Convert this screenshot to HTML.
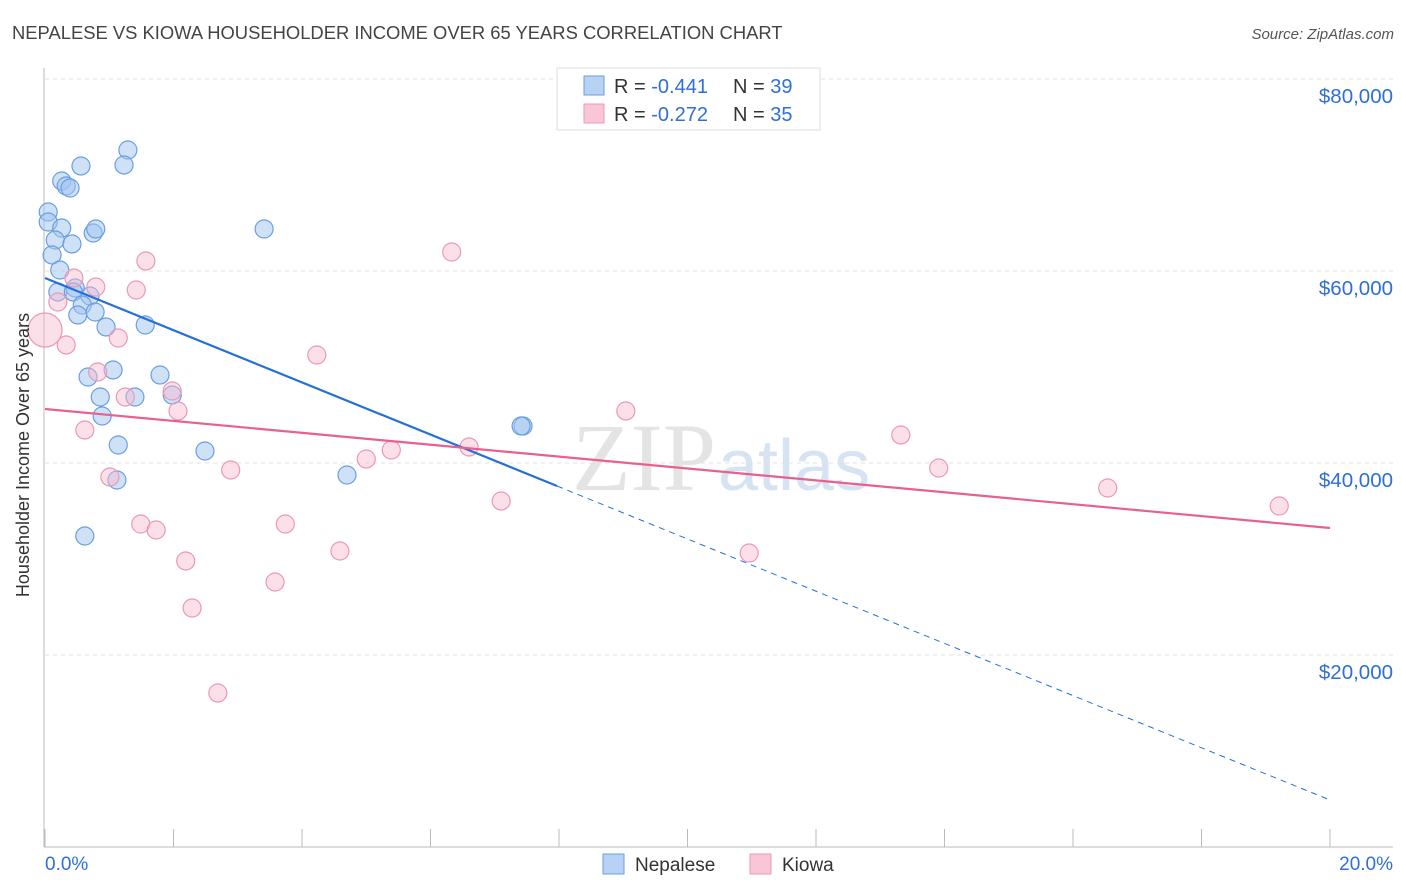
<!DOCTYPE html>
<html><head><meta charset="utf-8"><style>
body{margin:0;background:#fff;font-family:"Liberation Sans",sans-serif}
svg{display:block}
</style></head><body>
<svg id="c" width="1406" height="892">
<text x="12" y="39" font-size="18.4" fill="#444">NEPALESE VS KIOWA HOUSEHOLDER INCOME OVER 65 YEARS CORRELATION CHART</text>
<text x="1394" y="39" font-size="15" fill="#555" font-style="italic" text-anchor="end">Source: ZipAtlas.com</text>
<text x="716" y="490" font-size="96" fill="#e4e4e4" text-anchor="end" font-family="Liberation Serif">ZIP</text>
<text x="718" y="490" font-size="72" fill="#d6e3f3">atlas</text>
<g id="grid"></g><g id="axes"></g><g id="pts"></g><g id="lines"></g>
<text x="29" y="455" font-size="18" fill="#333" text-anchor="middle" transform="rotate(-90 29 455)">Householder Income Over 65 years</text>
<g>
<rect x="557" y="68" width="263" height="62" fill="#fff" stroke="#ddd"/>
<rect x="584" y="76" width="20" height="19" fill="#b8d2f3" stroke="#6a9ee0"/>
<text x="614" y="93" font-size="20" fill="#333">R = <tspan fill="#2f6fd6">-0.441</tspan></text>
<text x="733" y="93" font-size="20" fill="#333">N = <tspan fill="#2f6fd6">39</tspan></text>
<rect x="584" y="104" width="20" height="19" fill="#f8c6d6" stroke="#e99ab5"/>
<text x="614" y="121" font-size="20" fill="#333">R = <tspan fill="#2f6fd6">-0.272</tspan></text>
<text x="733" y="121" font-size="20" fill="#333">N = <tspan fill="#2f6fd6">35</tspan></text>
</g>
<g>
<rect x="603" y="854" width="21" height="20" fill="#b8d2f3" stroke="#6a9ee0"/>
<text x="635" y="871" font-size="19" fill="#333">Nepalese</text>
<rect x="750" y="854" width="21" height="20" fill="#f8c6d6" stroke="#e99ab5"/>
<text x="782" y="871" font-size="19" fill="#333">Kiowa</text>
</g>
</svg>
<script>
const nepX=[0.05,0.05,0.26,0.33,0.39,0.56,1.29,1.23,0.26,0.16,0.42,0.11,0.23,0.75,0.79,3.41,0.20,0.47,0.44,0.70,0.58,0.51,0.78,0.95,1.56,0.67,1.06,1.79,0.86,1.40,1.98,0.89,1.14,2.49,4.70,7.44,7.41,1.12,0.62];
const nepY=[66146,65104,69375,68854,68646,70938,72604,71042,64479,63229,62813,61667,60104,63958,64375,64375,57813,58229,57813,57396,56458,55417,55729,54167,54375,48958,49688,49167,46875,46875,47083,44896,41875,41250,38750,43854,43854,38229,32396];
const kioX=[0.0,0.20,0.45,0.79,1.42,1.57,0.33,1.14,0.82,1.25,1.98,2.07,0.62,1.01,2.89,4.23,6.33,1.49,1.73,2.19,3.74,3.58,2.29,2.69,4.59,5.00,5.39,6.60,7.10,9.04,10.96,13.32,13.91,16.54,19.21];
const kioY=[53854,56771,59271,58333,58021,61042,52292,53021,49479,46875,47500,45417,43438,38542,39271,51250,61979,33646,33021,29792,33646,27604,24896,16042,30833,40417,41354,41667,36042,45417,30625,42917,39479,37396,35521];
const yTicks=[20000,40000,60000,80000];
const yTickLabels=["$20,000","$40,000","$60,000","$80,000"];
const xTicks=[0,2,4,6,8,10,12,14,16,18,20];
const nepTrend=[59271,4896]; const nepSolidEnd=7.97;
const kioTrend=[45625,33229];
const NS="http://www.w3.org/2000/svg";
const X=v=>45+v/20*1285, Y=v=>847-v/20000*192;
function mk(t,a,p){const e=document.createElementNS(NS,t);for(const k in a)e.setAttribute(k,a[k]);p.appendChild(e);return e;}
const grid=document.getElementById('grid'),axes=document.getElementById('axes'),pts=document.getElementById('pts'),lines=document.getElementById('lines');
yTicks.forEach((v,i)=>{
 const l=mk('line',{x1:45,x2:1393,y1:Y(v),y2:Y(v),stroke:'#e2e2e2','stroke-dasharray':'4,4'},grid);
 
 
 const t=mk('text',{x:1393,y:Y(v)+24,'font-size':20.5,fill:'#2f6fd6','text-anchor':'end'},grid);
 t.textContent=yTickLabels[i];
 
 
});
const topGrid=mk('line',{x1:45,x2:1393,y1:79,y2:79,stroke:'#e2e2e2','stroke-dasharray':'4,4'},grid);


const ya=mk('line',{x1:44,x2:44,y1:68,y2:847,stroke:'#bbb'},axes);


const xa=mk('line',{x1:44,x2:1393,y1:847,y2:847,stroke:'#bbb'},axes);


xTicks.forEach(v=>{
 const t=mk('line',{x1:X(v),x2:X(v),y1:829,y2:847,stroke:'#bbb'},axes);
 
 
});
const xl0=mk('text',{x:45,y:870,'font-size':19,fill:'#2f6fd6'},axes);xl0.textContent='0.0%';


const xl1=mk('text',{x:1393,y:870,'font-size':19,fill:'#2f6fd6','text-anchor':'end'},axes);xl1.textContent='20.0%';


nepX.forEach((x,i)=>{
 const c=mk('circle',{cx:X(x),cy:Y(nepY[i]),r:9,fill:'rgba(160,196,240,0.5)',stroke:'#6a9ee0','stroke-width':1.2},pts);
 
 
});
kioX.forEach((x,i)=>{
 const c=mk('circle',{cx:X(x),cy:Y(kioY[i]),r:i===0?17:9,fill:'rgba(248,186,206,0.45)',stroke:'#eb98b5','stroke-width':1.2},pts);
 
 
});
const ny=x=>nepTrend[0]+(nepTrend[1]-nepTrend[0])*x/20;
const b1=mk('line',{x1:X(0),y1:Y(ny(0)),x2:X(nepSolidEnd),y2:Y(ny(nepSolidEnd)),stroke:'#2570d8','stroke-width':2.2},lines);


const b2=mk('line',{x1:X(nepSolidEnd),y1:Y(ny(nepSolidEnd)),x2:X(20),y2:Y(ny(20)),stroke:'#2570d8','stroke-width':1,'stroke-dasharray':'6,5'},lines);


const p1=mk('line',{x1:X(0),y1:Y(kioTrend[0]),x2:X(20),y2:Y(kioTrend[1]),stroke:'#e8608e','stroke-width':2.2},lines);


</script>
</body></html>
